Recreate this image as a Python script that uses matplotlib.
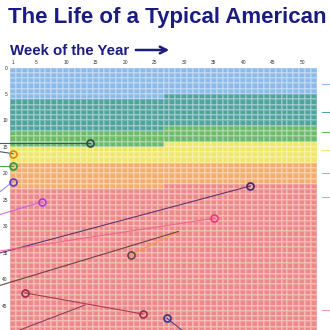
import matplotlib.pyplot as plt
import numpy as np
from matplotlib.colors import ListedColormap

# weeks across, age (years) down
weeks = np.arange(1, 53)
n_years = 50
week_ticks = [1, 5, 10, 15, 20, 25, 30, 35, 40, 45, 50]
age_ticks = [0, 5, 10, 15, 20, 25, 30, 35, 40, 45]

# life stages: boundary ages for weeks 1-26 and weeks 27-52
stage_colors = ['#8cbbea', '#52a39e', '#6cbb68', '#efe66c', '#f1ae70', '#ec8a88']
stage_start_first_half = [0, 6, 12, 15, 18, 23]
stage_start_second_half = [0, 5, 11, 14, 18, 22]
split_week = 26

# events (week, age) with the point the connector comes from
event_week = [14.0, 1.0, 1.0, 1.0, 5.9, 41.2, 35.1, 21.0, 3.0, 27.1]
event_age = [14.3, 16.3, 18.6, 21.6, 25.4, 22.4, 28.5, 35.4, 42.6, 47.4]
event_color = ['#2f4f4f', '#e08a10', '#3c9a3c', '#6a40c0', '#b040d8',
               '#4b2d6b', '#e8407a', '#6b4a4a', '#a0304a', '#3a3a8a']
from_week = [-6, -3, -6, -3, -3, -3, -3, 29.0, 23.0, 30.0]
from_age = [14.3, 15.6, 18.6, 25.0, 28.4, 35.6, 35.0, 31.0, 46.6, 50.0]
line_color = ['#2f4f4f', '#2f4f4f', '#3c9a3c', '#8a80f0', '#c060e0',
              '#4b2d6b', '#f06090', '#f0a030', '#a0304a', '#3a3a8a']
end_marker = [False, False, False, False, False, False, False, False, True, False]

# extra connectors without markers
extra_from = [(-3, 41.8), (2.2, 49.6)]
extra_to = [(29.0, 31.0), (13.2, 44.9)]
extra_color = ['#5a3a3a', '#8a3050']

legend_y = [84, 112, 132, 150, 173, 197, 310]
legend_c = ['#8fbbe8', '#55a6a0', '#6dbb6a', '#eee56e', '#f0a070', '#f09ab0', '#f09ab0']

plt.rcParams['font.family'] = ['Liberation Sans', 'DejaVu Sans']

fig = plt.figure(figsize=(3.3, 3.3), dpi=100)
ax = fig.add_axes([10 / 330, 0, 307 / 330, (330 - 67.5) / 330])

# stage index per cell
grid = np.zeros((n_years, 52))
for r in range(n_years):
    for j, w in enumerate(weeks):
        starts = stage_start_first_half if w <= split_week else stage_start_second_half
        grid[r, j] = sum(1 for s in starts if r >= s) - 1

ax.pcolormesh(np.arange(0.5, 53.5), np.arange(0, n_years + 1), grid,
              cmap=ListedColormap(stage_colors), vmin=-0.5, vmax=5.5,
              edgecolors=(1, 1, 1, 0.22), linewidth=0.3)

for i in range(len(event_week)):
    ax.plot([from_week[i], event_week[i]], [from_age[i], event_age[i]],
            color=line_color[i], lw=0.8, alpha=0.9, clip_on=False, zorder=3)
    ax.plot(event_week[i], event_age[i], 'o', ms=5, mfc='none',
            mec=event_color[i], mew=1.3, zorder=4, clip_on=False)
    if end_marker[i]:
        ax.plot(from_week[i], from_age[i], 'o', ms=5, mfc='none',
                mec=event_color[i], mew=1.3, zorder=4)

for (x0, y0), (x1, y1), c in zip(extra_from, extra_to, extra_color):
    ax.plot([x0, x1], [y0, y1], color=c, lw=0.8, alpha=0.9, clip_on=False, zorder=3)

ax.set_xlim(0.5, 52.5)
ax.set_ylim((330 - 67.5) / 5.29, 0)
ax.xaxis.tick_top()
ax.set_xticks(week_ticks)
ax.set_yticks(age_ticks)
ax.tick_params(length=0, labelsize=3.5, labelcolor='#333333', pad=1.5)
for s in ax.spines.values():
    s.set_visible(False)

fig.text(0.506, 1 - 17 / 330, 'The Life of a Typical American', ha='center', va='center',
         fontsize=16, fontweight='bold', color='#1c1c80')
fig.text(10 / 330, 1 - 51 / 330, 'Week of the Year', ha='left', va='center',
         fontsize=10.8, fontweight='bold', color='#1c1c80')
ax.annotate('', xy=(172, 330 - 50), xytext=(133, 330 - 50),
            xycoords='figure pixels', textcoords='figure pixels',
            arrowprops=dict(arrowstyle='->', color='#1c1c80', lw=1.8,
                            mutation_scale=12))

for y, c in zip(legend_y, legend_c):
    fig.lines.append(plt.Line2D([322 / 330, 330 / 330], [1 - y / 330, 1 - y / 330],
                                transform=fig.transFigure, color=c, lw=0.8))

fig.savefig('out.png', dpi=100)
